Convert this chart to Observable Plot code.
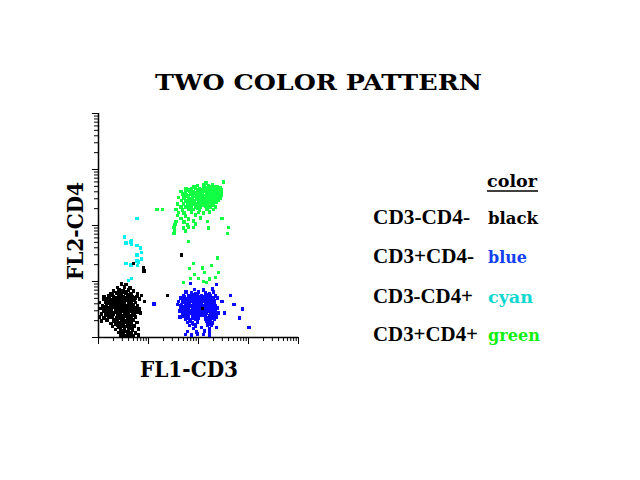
<!DOCTYPE html>
<html><head><meta charset="utf-8">
<script src="https://cdn.jsdelivr.net/npm/d3@7"></script>
<script src="https://cdn.jsdelivr.net/npm/@observablehq/plot@0.6"></script>
<style>
html,body{margin:0;padding:0;background:#fff;}
#chart{position:relative;width:640px;height:480px;}
</style></head><body><div id="chart"></div>
<script>
// ---- texts ----
const title = "TWO COLOR PATTERN";
const xLabel = "FL1-CD3";
const yLabel = "FL2-CD4";
const legendHeader = "color";
const legendPhenotypes = ["CD3-CD4-", "CD3+CD4-", "CD3-CD4+", "CD3+CD4+"];
const legendColorNames = ["black", "blue", "cyan", "green"];

// ---- ticks (log decades, no labels) ----
const xMajorTicks = [1, 10, 100, 1000, 10000];
const xMinorTicks = [2,3,4,5,6,7,8,9, 20,30,40,50,60,70,80,90, 200,300,400,500,600,700,800,900, 2000,3000,4000,5000,6000,7000,8000,9000];
const yMajorTicks = [1, 10, 100, 1000, 10000];
const yMinorTicks = [2,3,4,5,6,7,8,9, 20,30,40,50,60,70,80,90, 200,300,400,500,600,700,800,900, 2000,3000,4000,5000,6000,7000,8000,9000];

// ---- events [FL1, FL2] ----
const blackEvents = [
[2.9,9.1],[3.6,8.8],
[2.4,7.8],[3.3,8.0],[4.2,7.6],
[2.0,6.8],[2.6,7.0],[3.1,6.7],[4.0,7.0],[5.0,6.8],
[1.75,6.0],[2.3,6.2],[2.9,6.0],[3.6,6.2],[4.5,6.0],[6.0,6.1],
[1.3,5.4],[1.6,5.5],[2.0,5.3],[2.5,5.5],[3.1,5.3],[3.8,5.5],[4.8,5.3],[5.8,5.4],[7.2,5.6],
[1.26,4.8],[1.5,4.9],[1.8,4.7],[2.2,4.8],[2.6,4.9],[3.0,4.7],[3.6,4.8],[4.4,4.9],[5.2,4.7],[6.6,4.8],
[1.05,4.2],[1.4,4.3],[1.66,4.1],[1.9,4.2],[2.3,4.3],[2.75,4.1],[3.3,4.2],[4.0,4.3],[4.6,4.1],[5.5,4.2],[8.3,4.4],
[1.2,3.7],[1.45,3.8],[1.75,3.6],[2.1,3.7],[2.4,3.8],[2.9,3.6],[3.5,3.7],[4.2,3.8],[5.0,3.6],[6.0,3.7],
[1.1,3.3],[1.3,3.2],[1.6,3.4],[1.8,3.3],[2.2,3.2],[2.6,3.4],[3.0,3.3],[3.6,3.2],[4.4,3.4],[5.2,3.3],[6.6,3.2],
[1.26,2.9],[1.5,3.0],[1.8,2.9],[2.1,2.8],[2.5,3.0],[3.0,2.9],[3.5,2.8],[4.2,3.0],[5.0,2.9],[5.8,2.8],
[1.15,2.6],[1.4,2.55],[1.66,2.65],[2.0,2.6],[2.4,2.55],[2.75,2.65],[3.3,2.6],[4.0,2.55],[4.8,2.65],[6.9,2.7],
[1.05,2.3],[1.3,2.25],[1.6,2.35],[1.9,2.3],[2.3,2.25],[2.6,2.35],[3.1,2.3],[3.8,2.25],[4.6,2.35],[5.5,2.3],
[1.15,2.0],[1.5,2.05],[2.0,1.95],[2.4,2.0],[2.9,2.05],[3.5,1.95],[4.2,2.0],[5.0,2.05],
[1.75,1.78],[2.2,1.75],[2.6,1.8],[3.1,1.78],[3.8,1.75],[4.6,1.8],[5.8,1.85],
[1.9,1.57],[2.5,1.55],[3.0,1.6],[3.6,1.57],[4.4,1.55],[5.2,1.6],
[2.2,1.39],[2.75,1.37],[3.3,1.41],[4.0,1.39],[4.8,1.37],[6.3,1.4],
[2.5,1.23],[3.0,1.21],[3.8,1.25],[4.6,1.23],[5.5,1.21],
[2.75,1.09],[3.5,1.08],[4.2,1.1],[5.0,1.08],[6.3,1.1],
[2.7,4.5],[3.2,4.0],[3.9,3.5],[2.4,3.5],[3.3,3.1],[2.8,2.45],[3.6,2.75],[2.2,2.1],[3.4,1.88],[4.5,2.2],
[1.7,3.0],[4.8,3.9],[2.0,4.5],[3.4,5.1],[2.85,5.7],[4.2,1.45],[3.2,1.3],
[1.55,4.5],[2.05,4.0],[2.55,4.2],[3.45,4.6],[4.2,4.55],[5.4,5.0],[1.4,3.5],[1.95,3.5],[2.7,3.8],[3.2,3.55],
[4.6,3.6],[5.6,3.4],[1.45,2.75],[1.9,2.75],[2.3,2.95],[2.7,3.15],[3.9,3.1],[4.7,3.05],[5.6,3.0],[1.8,2.45],
[2.55,2.2],[3.35,2.4],[4.2,2.4],[5.1,2.5],[2.35,1.9],[3.15,2.05],[4.0,1.9],[2.8,1.7],[3.9,1.65],[2.4,1.65],
[3.3,1.5],[2.9,1.25],[4.1,1.2],[3.1,1.12],[2.3,5.1],[4.1,5.2],[2.6,6.4],[3.4,6.5],[3.9,5.8],[1.9,5.7]
];
const blackStrayEvents = [[5.0,21],[7.9,17.5],[8.0,15.5],[24,5.6],[46,30],[120,3.3]];

const blueEvents = [
[69,9.2],[230,8.8],
[83,7.2],[126,7.0],[190,7.3],
[57,6.4],[72,6.3],[100,6.5],[138,6.3],[200,6.4],
[50,5.6],[63,5.5],[79,5.7],[95,5.6],[115,5.5],[145,5.7],[174,5.6],[219,5.5],[437,5.6],
[44,5.0],[55,4.9],[66,5.1],[83,5.0],[100,4.9],[120,5.1],[145,5.0],[182,4.9],[240,5.1],
[40,4.4],[48,4.5],[60,4.3],[72,4.4],[87,4.5],[105,4.3],[126,4.4],[151,4.5],[190,4.3],[300,4.4],
[13,4.0],[38,3.9],[46,3.9],[55,3.8],[66,4.0],[79,3.9],[95,3.8],[115,4.0],[138,3.9],[165,3.8],[209,4.0],[520,3.9],
[44,3.4],[52,3.5],[63,3.3],[76,3.4],[91,3.5],[110,3.3],[132,3.4],[158,3.5],[190,3.3],[240,3.4],
[42,3.0],[50,2.95],[60,3.05],[72,3.0],[87,2.95],[105,3.05],[126,3.0],[151,2.95],[182,3.05],[219,3.0],[760,3.2],
[48,2.7],[57,2.65],[69,2.75],[83,2.7],[100,2.65],[120,2.75],[145,2.7],[174,2.65],[250,2.7],[330,2.7],
[42,2.35],[52,2.4],[63,2.35],[76,2.45],[91,2.4],[138,2.45],[165,2.4],[200,2.35],
[55,2.1],[69,2.05],[87,2.1],[138,2.1],[174,2.05],[209,2.1],[660,2.2],
[60,1.85],[76,1.83],[95,1.87],[158,1.85],[190,1.83],
[66,1.64],[87,1.62],[151,1.66],[182,1.64],
[79,1.45],[115,1.5],[165,1.45],[230,1.5],[1030,1.5],
[60,1.28],[91,1.27],[132,1.29],[165,1.28],
[55,1.13],[72,1.12],[95,1.14],[126,1.13],[165,1.12],
[62,4.7],[90,4.2],[108,3.7],[125,3.2],[80,3.2],[170,3.1],[140,4.7],[200,3.7],[100,3.0],[58,3.7],
[115,2.55],[150,2.25],[78,2.25],[160,2.0],[110,5.3],[90,6.0],[165,6.0],[42,2.3],
[52,5.3],[75,5.3],[95,5.2],[130,5.3],[160,5.3],[200,5.2],[68,4.7],[78,4.6],[115,4.6],[165,4.6],
[210,4.6],[52,4.2],[80,4.2],[115,4.2],[140,4.2],[175,4.1],[45,3.7],[70,3.7],[85,3.65],[125,3.7],
[150,3.7],[180,3.75],[220,3.7],[58,3.2],[95,3.25],[145,3.25],[175,3.2],[210,3.2],[55,2.85],[65,2.9],
[80,2.85],[115,2.85],[138,2.85],[165,2.9],[200,2.8],[62,2.55],[90,2.55],[130,2.55],[190,2.55],[220,2.5],
[60,2.2],[82,2.3],[100,2.2],[185,2.25],[230,2.3],[150,1.95],[175,1.75],[80,1.7],[67,1.95]
];

const cyanEvents = [
[5.8,133],[3.3,63],[4.6,54],[3.6,48],[4.4,50],[4.6,46],[5.8,44],[6.9,40],[5.8,30],[7.2,33],
[7.2,25],[5.8,23],[3.6,21],[4.4,20],[6.0,19.3],[6.3,22],[4.6,11.3],[4.0,10.4]
];

const greenEvents = [
[316,590],[140,580],
[95,520],[126,530],[158,510],[190,525],
[57,460],[72,455],[87,465],[105,460],[126,455],[151,465],[182,460],[219,455],[265,465],
[44,405],[55,400],[66,410],[79,405],[95,400],[115,410],[138,405],[165,400],[200,410],[240,405],[290,400],
[48,360],[57,355],[69,365],[83,360],[100,355],[120,365],[145,360],[174,355],[209,365],[250,360],
[40,315],[52,310],[63,320],[76,315],[91,310],[110,320],[132,315],[158,310],[190,320],[230,315],[275,310],
[46,280],[57,275],[69,285],[83,280],[100,275],[120,285],[145,280],[174,275],[209,285],[250,280],
[38,245],[50,240],[63,250],[76,245],[95,240],[115,250],[138,245],[165,240],[200,250],
[44,217],[55,212],[69,220],[87,217],[110,212],[138,220],[174,217],[219,212],
[15,192],[19,192],[36,192],[48,190],[63,195],[79,192],[105,190],[145,195],[200,192],
[40,170],[52,168],[72,172],[100,170],[126,168],[165,172],
[38,150],[55,148],[87,152],
[44,133],[63,131],[110,135],[300,133],
[36,118],[52,117],[79,120],[151,118],
[34,104],[60,103],[87,106],
[32,92],[50,91],[63,93],[79,92],[158,90],[400,92],
[33,81],[55,80],
[32,72],[380,72],
[63,52],
[110,440],[140,430],[175,440],[200,380],[160,380],[120,380],[90,380],[230,380],[185,340],[150,335],
[115,340],[80,335],[250,335],[210,300],[170,300],[130,300],[95,300],[65,300],[180,260],[140,260],
[105,260],[70,260],[155,230],[120,230],[60,230],[95,205],[200,230],[230,430],[260,430],[65,430],
[80,480],[130,490],[175,490],[210,480],[240,480],[70,430],[95,430],[120,425],[155,420],[190,430],
[215,425],[280,440],[75,385],[105,385],[145,385],[180,385],[215,385],[260,385],[60,340],[95,340],
[130,345],[165,340],[200,340],[230,345],[280,345],[70,300],[110,300],[150,300],[190,300],[240,300],
[80,265],[125,265],[160,265],[200,270],[230,265],[90,230],[130,235],[180,235],[105,225],[70,205],[150,205]
];
const greenLowEvents = [
[240,26],[182,19.3],[79,21],[66,17],[83,13.3],[120,17.5],[132,14.5],[219,11.8],[250,14.5],
[50,9.6],[69,11.3],[126,10],[145,9.6],[165,11],[100,11.3]
];

// ---- colours ----
const dotColors = {black: "#000000", blue: "#0a0aff", cyan: "#00f0f0", green: "#10ff44"};
const legendTextColors = ["#000000", "#1040f0", "#10d8d0", "#10f010"];

const dotOpts = (fill) => ({x: d => d[0], y: d => d[1], symbol: "square", r: 2.1, fill, stroke: "none", shapeRendering: "crispEdges"});

const svg = Plot.plot({
  width: 640, height: 480,
  marginLeft: 98, marginRight: 342, marginTop: 113, marginBottom: 143,
  x: {type: "log", domain: [1, 10000], label: null},
  y: {type: "log", domain: [1, 10000], label: null},
  style: {background: "white", overflow: "visible"},
  marks: [
    Plot.axisX({ticks: xMajorTicks, tickSize: 7, fill: "none", stroke: "black", label: null}),
    Plot.axisX({ticks: xMinorTicks, tickSize: 4, fill: "none", stroke: "black", label: null}),
    Plot.axisY({ticks: yMajorTicks, tickSize: 6, fill: "none", stroke: "black", label: null}),
    Plot.axisY({ticks: yMinorTicks, tickSize: 4, fill: "none", stroke: "black", label: null}),
    Plot.ruleY([1], {stroke: "black", strokeWidth: 1.5}),
    Plot.ruleX([1], {stroke: "black", strokeWidth: 1.5}),
    Plot.dot(blackEvents, dotOpts(dotColors.black)),
    Plot.dot(blueEvents, dotOpts(dotColors.blue)),
    Plot.dot(cyanEvents, dotOpts(dotColors.cyan)),
    Plot.dot(greenLowEvents, dotOpts(dotColors.green)),
    Plot.dot(greenEvents, dotOpts(dotColors.green)),
    Plot.dot(blackStrayEvents, dotOpts(dotColors.black))
  ]
});

const s = d3.select(svg);
const SERIF_WIDE = "'DejaVu Serif', 'Liberation Serif', serif";
const SERIF_NARROW = "'Liberation Serif', 'DejaVu Serif', serif";
function label(txt, x, y, size, len, {fill = "#000", anchor = "start", transform = null, family = SERIF_WIDE} = {}) {
  const t = s.append("text")
    .attr("x", x).attr("y", y)
    .attr("font-family", family).attr("font-weight", "bold")
    .attr("font-size", size).attr("fill", fill)
    .attr("text-anchor", anchor)
    .attr("textLength", len).attr("lengthAdjust", "spacingAndGlyphs")
    .text(txt);
  if (transform) t.attr("transform", transform);
  return t;
}
label(title, 318.5, 90, 23, 327, {anchor: "middle"});
label(xLabel, 189, 377, 23, 98, {anchor: "middle"});
label(yLabel, 0, 0, 23, 98, {anchor: "middle", transform: "translate(83,231) rotate(-90)"});
label(legendHeader, 487, 187, 17, 50);
s.append("line").attr("x1", 487).attr("x2", 538).attr("y1", 191).attr("y2", 191)
  .attr("stroke", "#000").attr("stroke-width", 1.5);
const rowBaselines = [224, 263, 303, 341];
const phenoLens = [97, 101, 100, 105];
const colorLens = [50, 39, 45, 52];
legendPhenotypes.forEach((p, i) => {
  label(p, 373, rowBaselines[i], 21, phenoLens[i], {family: SERIF_NARROW});
  label(legendColorNames[i], 488, rowBaselines[i], 17, colorLens[i], {fill: legendTextColors[i]});
});

document.getElementById("chart").append(svg);
</script>
</body></html>
